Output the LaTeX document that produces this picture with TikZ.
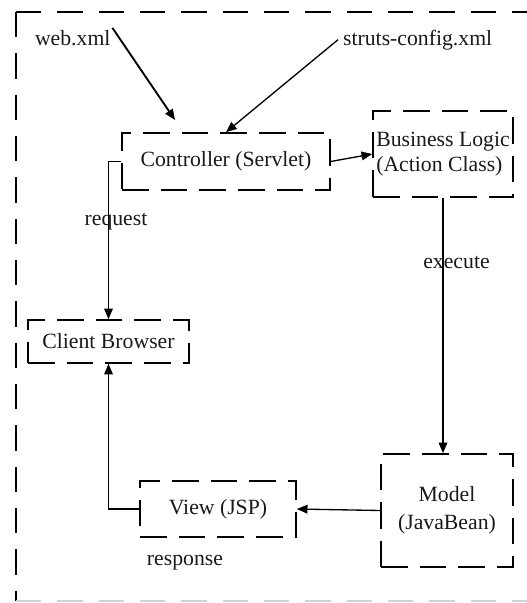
\documentclass[tikz,border=0pt]{standalone}
\usepackage{fontspec}
\setmainfont{Liberation Serif}
\usepackage{tikz}
\usetikzlibrary{arrows.meta}

\begin{document}
\begin{tikzpicture}[->, >={Triangle[length=8pt,width=6.5pt]},
      x=0.75pt, y=-0.75pt, line width=1pt,
      every node/.append style={font=\fontsize{16.3pt}{19pt}\selectfont,text=black!90},
      mvcbox/.style={draw=black,line width=1.2pt,dash pattern=on 20pt off 9pt,inner sep=2pt},
      frame/.style={-,line width=1.2pt,dash pattern=on 19pt off 12pt}]
    \useasboundingbox (0,0) rectangle (526,603);
    \draw [frame] (16,12) -- (540,12);
    \draw [frame] (16,12) -- (16,601);
    \draw [frame,gray!35] (16,601) -- (540,601);

    \node (webxml) [anchor=base west,inner sep=1pt] at (33,45) {web.xml};
    \node (struts) [anchor=base west] at (338,45) {struts-config.xml};
    \coordinate (webtip) at (175,120);
    \node (Controller) [mvcbox,minimum width=156pt,minimum height=42.75pt] at (226,161.5) {Controller (Servlet)};
    \node (Logic) [mvcbox,align=left,minimum width=105pt,minimum height=64.5pt] at (443,154) {Business Logic\\(Action Class)};
    \node (Browser) [mvcbox,minimum width=120.75pt,minimum height=32.25pt] at (108.5,341.5) {Client Browser};
    \node (View) [mvcbox,minimum width=117pt,minimum height=42pt] at (218,509) {View (JSP)};
    \node (Model) [mvcbox,align=center,minimum width=99pt,minimum height=84.75pt] at (447,510.5) {Model\\[2pt](JavaBean)};

    \node (request) [anchor=base] at (116,225) {request};
    \node (execute) [anchor=base] at (456.5,268) {execute};
    \node (response) [anchor=base] at (185,565) {response};

    \draw [line width=1.4pt] (webxml.north east) -- (webtip);
    \draw (struts.west) -- (Controller.north);
    \draw (Controller.east) -- (Logic.west);
    \draw (Controller.west) -| (Browser.north);
    \draw (Logic.south) -- (Logic.south |- Model.north);
    \draw (Model.west) -- (View.east);
    \draw (View.west) -| (Browser.south);
  \end{tikzpicture}
\end{document}
